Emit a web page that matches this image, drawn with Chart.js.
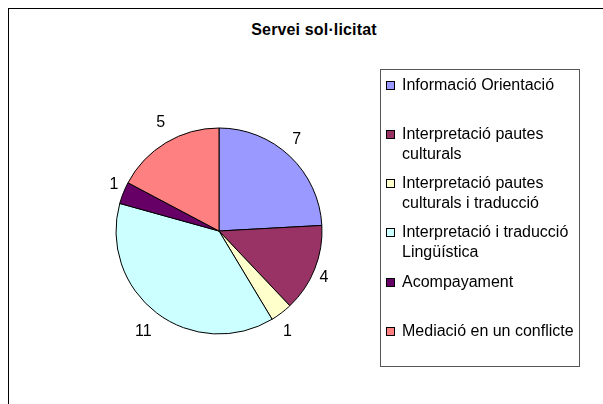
<!DOCTYPE html>
<html>
<head>
<meta charset="utf-8">
<script src="https://cdn.jsdelivr.net/npm/chart.js@4.4.1/dist/chart.umd.min.js"></script>
<style>
  html, body { margin:0; padding:0; background:#fff; }
  body { width:603px; height:404px; overflow:hidden; position:relative; font-family:"Liberation Sans", Arial, sans-serif; color:#000; }
  #frame { position:absolute; left:8px; top:8px; width:700px; height:500px; border-left:1px solid #000; border-top:1px solid #000; }
  #title { position:absolute; left:0; width:628px; top:20px; text-align:center; font-weight:bold; font-size:16px; line-height:20px; letter-spacing:0.15px; }
  #chart { position:absolute; left:0; top:0; }
  #legend { position:absolute; left:380px; top:69px; width:198px; height:296px; border:1px solid #555; }
  .item { position:absolute; left:0; width:198px; }
  .sw { position:absolute; left:5px; top:6px; width:7px; height:7px; border:1px solid #000; }
  .lt { position:absolute; left:21px; top:0; width:180px; font-size:16px; line-height:20px; white-space:normal; }
</style>
</head>
<body>
<div id="frame"></div>
<div id="title">Servei sol·licitat</div>
<canvas id="chart" width="603" height="404"></canvas>
<div id="legend"></div>
<script>
// ---- data ----
const categories = [
  "Informació Orientació",
  "Interpretació pautes culturals",
  "Interpretació pautes culturals i traducció",
  "Interpretació i traducció Lingüística",
  "Acompayament",
  "Mediació en un conflicte"
];
const legendLines = [
  ["Informació Orientació"],
  ["Interpretació pautes", "culturals"],
  ["Interpretació pautes", "culturals i traducció"],
  ["Interpretació i traducció", "Lingüística"],
  ["Acompayament"],
  ["Mediació en un conflicte"]
];
const values = [7, 4, 1, 11, 1, 5];
const sliceColors = ["#9999FF", "#993366", "#FFFFCC", "#CCFFFF", "#660066", "#FF8080"];

// ---- legend (HTML) ----
const legend = document.getElementById('legend');
const ITEM_STEP = 49.3, FIRST_TOP = 4.5;
categories.forEach((c, i) => {
  const it = document.createElement('div');
  it.className = 'item';
  it.style.top = (FIRST_TOP + i * ITEM_STEP) + 'px';
  const sw = document.createElement('div');
  sw.className = 'sw';
  sw.style.background = sliceColors[i];
  const t = document.createElement('div');
  t.className = 'lt';
  t.innerHTML = legendLines[i].join('<br>');
  it.appendChild(sw); it.appendChild(t);
  legend.appendChild(it);
});

// ---- value labels plugin ----
const valueLabels = {
  id: 'valueLabels',
  afterDatasetsDraw(chart) {
    const ctx = chart.ctx;
    const meta = chart.getDatasetMeta(0);
    ctx.save();
    ctx.font = '16px "Liberation Sans", Arial, sans-serif';
    ctx.fillStyle = '#000';
    ctx.textAlign = 'center';
    ctx.textBaseline = 'middle';
    meta.data.forEach((arc, i) => {
      const p = arc.getProps(['x','y','startAngle','endAngle','outerRadius'], true);
      const mid = (p.startAngle + p.endAngle) / 2;
      const ux = Math.cos(mid), uy = Math.sin(mid);
      const txt = String(chart.data.datasets[0].data[i]);
      const w = ctx.measureText(txt).width;
      const r = p.outerRadius + 5.5;
      const kx = txt.length > 1 ? w : w / 2;
      const x = p.x + r * ux + ux * kx;
      const y = p.y + r * uy + uy * 17.5;
      ctx.fillText(txt, x, y);
    });
    ctx.restore();
  }
};

new Chart(document.getElementById('chart'), {
  type: 'pie',
  data: {
    labels: categories,
    datasets: [{
      data: values,
      backgroundColor: sliceColors,
      borderColor: '#000',
      borderWidth: 1
    }]
  },
  options: {
    responsive: false,
    devicePixelRatio: 1,
    animation: false,
    events: [],
    radius: 103,
    layout: { padding: { left: 116, right: 281, top: 128, bottom: 70 } },
    plugins: {
      legend: { display: false },
      tooltip: { enabled: false },
      title: { display: false }
    }
  },
  plugins: [valueLabels]
});
</script>
</body>
</html>
